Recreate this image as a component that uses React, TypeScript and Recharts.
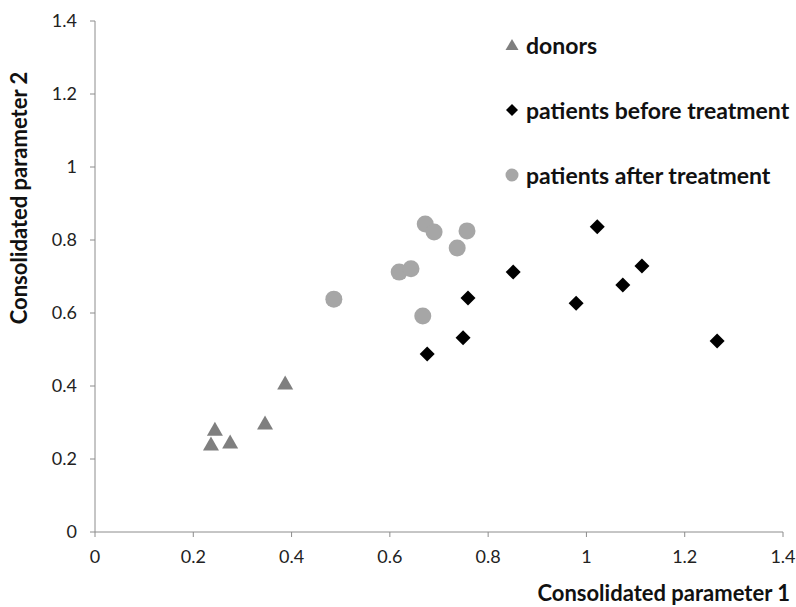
import { JSX } from 'react'
import { ScatterChart, Scatter, XAxis, YAxis, Label } from 'recharts'

// Donors (triangles)
const donorX = [0.236, 0.244, 0.275, 0.346, 0.387]
const donorY = [0.24, 0.28, 0.245, 0.297, 0.407]

// Patients before treatment (diamonds)
const beforeX = [0.676, 0.749, 0.759, 0.851, 0.979, 1.022, 1.074, 1.113, 1.266]
const beforeY = [0.488, 0.532, 0.641, 0.712, 0.627, 0.836, 0.677, 0.729, 0.523]

// Patients after treatment (circles)
const afterX = [0.486, 0.619, 0.643, 0.667, 0.672, 0.69, 0.737, 0.757]
const afterY = [0.638, 0.712, 0.721, 0.592, 0.844, 0.822, 0.778, 0.825]

const axisTicks = [0, 0.2, 0.4, 0.6, 0.8, 1, 1.2, 1.4]
const tickLabels = ['0', '0.2', '0.4', '0.6', '0.8', '1', '1.2', '1.4']

const seriesNames = ['donors', 'patients before treatment', 'patients after treatment']

const toPoints = (xs: number[], ys: number[]) => xs.map((x, i) => ({ x, y: ys[i] }))
const fmtTick = (v: number) => tickLabels[axisTicks.indexOf(v)] ?? String(v)

const FONT = 'Lato, "Open Sans", sans-serif'

function Triangle({ cx, cy, fill }: any): JSX.Element {
  const s = 8
  return (
    <path
      d={`M${cx},${cy - s} L${cx + s},${cy + s * 0.75} L${cx - s},${cy + s * 0.75} Z`}
      fill={fill}
    />
  )
}

function Diamond({ cx, cy, fill }: any): JSX.Element {
  const s = 7.5
  return <path d={`M${cx},${cy - s} L${cx + s},${cy} L${cx},${cy + s} L${cx - s},${cy} Z`} fill={fill} />
}

function Dot({ cx, cy, fill }: any): JSX.Element {
  return <circle cx={cx} cy={cy} r={8.5} fill={fill} />
}

// legend is drawn by hand, the recharts Legend reserves space in the plot
function LegendBox(): JSX.Element {
  const icons = [
    <path key="t" d="M8,2 L14.5,13 L1.5,13 Z" fill="#7f7f7f" />,
    <path key="d" d="M8,2 L14,8 L8,14 L2,8 Z" fill="#000" />,
    <circle key="c" cx={8} cy={8} r={6.5} fill="#a6a6a6" />
  ]
  const rowCenters = [45, 110, 175]
  return (
    <>
      {seriesNames.map((name, i) => (
        <div
          key={name}
          style={{
            position: 'absolute',
            left: 504,
            top: rowCenters[i] - 14,
            height: 28,
            display: 'flex',
            alignItems: 'center',
            whiteSpace: 'nowrap',
            fontFamily: FONT,
            fontWeight: 700,
            fontSize: 23,
            color: '#111'
          }}
        >
          <svg width={16} height={16} style={{ marginRight: 6 }}>
            {icons[i]}
          </svg>
          <span>{name}</span>
        </div>
      ))}
    </>
  )
}

export default function App(): JSX.Element {
  return (
    <div style={{ position: 'absolute', left: 0, top: 0, width: 796, height: 607, background: '#fff' }}>
      <ScatterChart width={796} height={607} margin={{ top: 21, right: 13, bottom: 0, left: 0 }}>
        <XAxis
          type="number"
          dataKey="x"
          domain={[0, 1.4]}
          ticks={axisTicks}
          tickFormatter={fmtTick}
          height={75}
          stroke="#8c8c8c"
          tickSize={5}
          tickMargin={13}
          tick={{ fill: '#222', fontSize: 18, fontFamily: FONT }}
          interval={0}
        >
          <Label
            content={() => (
              <text x={790} y={601} textAnchor="end" fontFamily={FONT} fontWeight={700} fontSize={22} fill="#111">
                Consolidated parameter 1
              </text>
            )}
          />
        </XAxis>
        <YAxis
          type="number"
          dataKey="y"
          domain={[0, 1.4]}
          ticks={axisTicks}
          tickFormatter={fmtTick}
          width={95}
          stroke="#8c8c8c"
          tickSize={5}
          tickMargin={13}
          tick={{ fill: '#222', fontSize: 18, fontFamily: FONT }}
          interval={0}
        >
          <Label
            content={() => (
              <text
                x={21}
                y={198}
                transform="rotate(-90 21 198)"
                textAnchor="middle"
                dominantBaseline="middle"
                fontFamily={FONT}
                fontWeight={700}
                fontSize={22}
                fill="#111"
              >
                Consolidated parameter 2
              </text>
            )}
          />
        </YAxis>
        <Scatter
          name={seriesNames[0]}
          data={toPoints(donorX, donorY)}
          fill="#7f7f7f"
          shape={(p: any) => <Triangle {...p} />}
          isAnimationActive={false}
        />
        <Scatter
          name={seriesNames[1]}
          data={toPoints(beforeX, beforeY)}
          fill="#000000"
          shape={(p: any) => <Diamond {...p} />}
          isAnimationActive={false}
        />
        <Scatter
          name={seriesNames[2]}
          data={toPoints(afterX, afterY)}
          fill="#a6a6a6"
          shape={(p: any) => <Dot {...p} />}
          isAnimationActive={false}
        />
      </ScatterChart>
      <LegendBox />
    </div>
  )
}
